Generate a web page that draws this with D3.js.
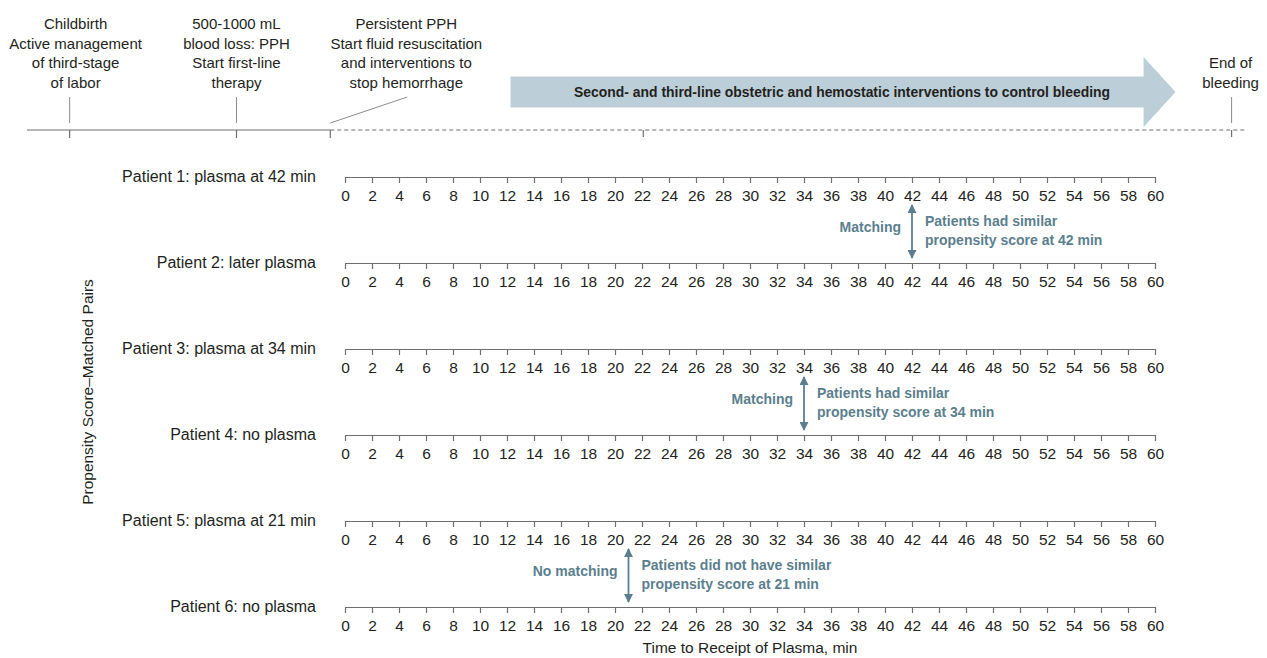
<!DOCTYPE html>
<html>
<head>
<meta charset="utf-8">
<script src="https://cdn.jsdelivr.net/npm/d3@7"></script>
<style>
  body { margin: 0; background: #fff; }
  text { font-family: "Liberation Sans", Arial, sans-serif; fill: #231f20; }
</style>
</head>
<body>
<script>
// ---- data ----
const patients = [
    "Patient 1: plasma at 42 min",
    "Patient 2: later plasma",
    "Patient 3: plasma at 34 min",
    "Patient 4: no plasma",
    "Patient 5: plasma at 21 min",
    "Patient 6: no plasma"
];
const minuteTicks = d3.range(0, 61, 2);
const matchTimes = [42, 34, 21];
const matchLabels = ["Matching", "Matching", "No matching"];
const matchNotes = [
    ["Patients had similar", "propensity score at 42 min"],
    ["Patients had similar", "propensity score at 34 min"],
    ["Patients did not have similar", "propensity score at 21 min"]
];

// top timeline, positions in relative stage units (0-100)
const eventNames = ["Childbirth", "PPH", "Persistent PPH", "End of bleeding"];
const eventPos = [3.5, 17.2, 24.9, 98.9];
const eventLines = [
    ["Childbirth", "Active management", "of third-stage", "of labor"],
    ["500-1000 mL", "blood loss: PPH", "Start first-line", "therapy"],
    ["Persistent PPH", "Start fluid resuscitation", "and interventions to", "stop hemorrhage"],
    ["End of", "bleeding"]
];
const midTick = 50.6;
const arrowSpan = [39.7, 94.3];
const arrowText = "Second- and third-line obstetric and hemostatic interventions to control bleeding";

const W = 1267, H = 658;
const annoColor = "#5b7f8e";
const lineColor = "#6d6e70";

const svg = d3.select("body").append("svg")
    .attr("width", W).attr("height", H)
    .attr("viewBox", [0, 0, W, H]);

const defs = svg.append("defs");
defs.append("marker")
    .attr("id", "head")
    .attr("viewBox", "0 0 10 10")
    .attr("refX", 9).attr("refY", 5)
    .attr("markerWidth", 9).attr("markerHeight", 9)
    .attr("markerUnits", "userSpaceOnUse")
    .attr("orient", "auto-start-reverse")
    .append("path")
    .attr("d", "M0,0L10,5L0,10Z")
    .attr("fill", annoColor);

// ---- top timeline ----
const t = d3.scaleLinear().domain([0, 100]).range([27, 1245]);
const tlY = 130;

svg.append("line")
    .attr("x1", t(0)).attr("x2", t(eventPos[2]))
    .attr("y1", tlY).attr("y2", tlY)
    .attr("stroke", lineColor).attr("stroke-width", 1.2);
svg.append("line")
    .attr("x1", t(eventPos[2])).attr("x2", t(100))
    .attr("y1", tlY).attr("y2", tlY)
    .attr("stroke", lineColor).attr("stroke-width", 1.2)
    .attr("stroke-dasharray", "4,3");

// ticks below the line
eventPos.slice(0, 3).forEach(p => {
    svg.append("line")
        .attr("x1", t(p)).attr("x2", t(p))
        .attr("y1", tlY).attr("y2", tlY + 8)
        .attr("stroke", lineColor).attr("stroke-width", 1.2);
});
[midTick, eventPos[3]].forEach(p => {
    svg.append("line")
        .attr("x1", t(p)).attr("x2", t(p))
        .attr("y1", tlY).attr("y2", tlY + 7)
        .attr("stroke", lineColor).attr("stroke-width", 1.2);
});

// leader lines
[0, 1, 3].forEach(i => {
    svg.append("line")
        .attr("x1", t(eventPos[i])).attr("x2", t(eventPos[i]))
        .attr("y1", tlY - 33).attr("y2", tlY - 7)
        .attr("stroke", "#8a8b8d").attr("stroke-width", 1);
});
svg.append("line")
    .attr("x1", t(eventPos[2])).attr("y1", tlY - 7)
    .attr("x2", t(eventPos[2]) + 77).attr("y2", tlY - 33)
    .attr("stroke", "#8a8b8d").attr("stroke-width", 1);

// event labels
const labelCx = [t(eventPos[0]) + 6, t(eventPos[1]), t(eventPos[2]) + 76, t(eventPos[3]) - 1];
eventLines.forEach((lines, i) => {
    const n = lines.length;
    const txt = svg.append("text")
        .attr("text-anchor", "middle")
        .attr("font-size", 15);
    lines.forEach((s, j) => {
        txt.append("tspan")
            .attr("x", labelCx[i])
            .attr("y", 88 - (n - 1 - j) * 19.7)
            .text(s);
    });
});

// big arrow
const ax0 = t(arrowSpan[0]), ax1 = t(arrowSpan[1]);
const ay = 92, bodyH = 15.5, headH = 35, headL = 32;
svg.append("path")
    .attr("d", `M${ax0},${ay - bodyH}L${ax1 - headL},${ay - bodyH}L${ax1 - headL},${ay - headH}L${ax1},${ay}` +
        `L${ax1 - headL},${ay + headH}L${ax1 - headL},${ay + bodyH}L${ax0},${ay + bodyH}Z`)
    .attr("fill", "#bccfd9");
svg.append("text")
    .attr("x", (ax0 + ax1 - headL) / 2 + 15)
    .attr("y", ay + 5)
    .attr("text-anchor", "middle")
    .attr("font-weight", "bold")
    .attr("font-size", 15)
    .attr("textLength", 536)
    .attr("lengthAdjust", "spacingAndGlyphs")
    .text(arrowText);

// ---- patient axes ----
const x = d3.scaleLinear().domain([0, 60]).range([345, 1155]);
const y = d3.scaleLinear().domain([0, patients.length - 1]).range([177, 607]);

patients.forEach((name, i) => {
    const g = svg.append("g")
        .attr("transform", `translate(0,${y(i)})`)
        .call(d3.axisBottom(x).tickValues(minuteTicks).tickSize(6).tickSizeOuter(0).tickPadding(7));
    g.select(".domain").attr("stroke", lineColor).attr("stroke-width", 1.2);
    g.selectAll(".tick line").attr("stroke", lineColor).attr("stroke-width", 1.2);
    g.selectAll(".tick text")
        .attr("font-family", "'Liberation Sans', Arial, sans-serif")
        .attr("font-size", 15.5)
        .attr("fill", "#231f20");

    svg.append("text")
        .attr("x", 316)
        .attr("y", y(i) + 5)
        .attr("text-anchor", "end")
        .attr("font-size", 16)
        .text(name);
});

// ---- matching annotations ----
matchTimes.forEach((m, k) => {
    const top = y(2 * k), bot = y(2 * k + 1);
    const cx = x(m);
    svg.append("line")
        .attr("x1", cx).attr("x2", cx)
        .attr("y1", top + 28).attr("y2", bot - 5)
        .attr("stroke", annoColor).attr("stroke-width", 1.8)
        .attr("marker-start", "url(#head)")
        .attr("marker-end", "url(#head)");
    svg.append("text")
        .attr("x", cx - 11)
        .attr("y", top + 55)
        .attr("text-anchor", "end")
        .attr("font-size", 14)
        .attr("font-weight", "bold")
        .style("fill", annoColor)
        .text(matchLabels[k]);
    const note = svg.append("text")
        .attr("font-size", 14)
        .attr("font-weight", "bold")
        .style("fill", annoColor);
    matchNotes[k].forEach((s, j) => {
        note.append("tspan")
            .attr("x", cx + 13)
            .attr("y", top + 49 + j * 19)
            .text(s);
    });
});

// ---- axis titles ----
svg.append("text")
    .attr("transform", `translate(93,${(y(0) + y(5)) / 2}) rotate(-90)`)
    .attr("text-anchor", "middle")
    .attr("font-size", 15.5)
    .text("Propensity Score–Matched Pairs");

svg.append("text")
    .attr("x", (x(0) + x(60)) / 2)
    .attr("y", 653)
    .attr("text-anchor", "middle")
    .attr("font-size", 15.5)
    .text("Time to Receipt of Plasma, min");
</script>
</body>
</html>
